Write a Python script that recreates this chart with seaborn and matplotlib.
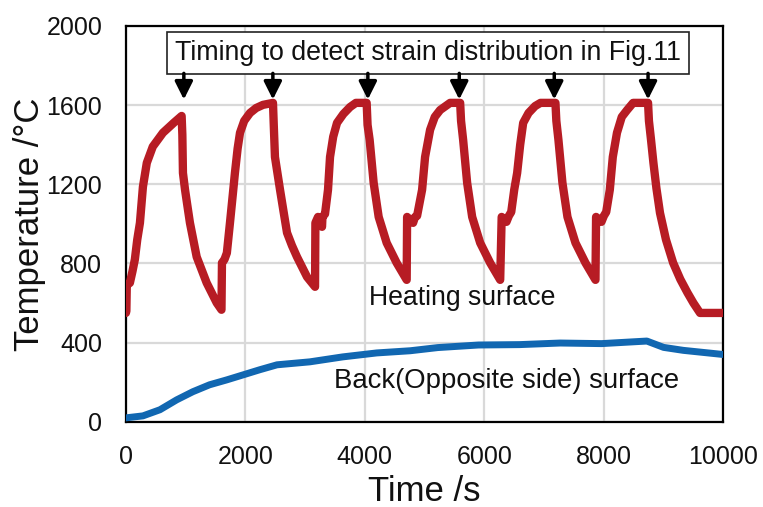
import matplotlib
matplotlib.use("Agg")
import matplotlib.pyplot as plt
import seaborn as sns
import pandas as pd

# Heating surface temperature (red)
heat_time = [0, 8, 15, 67, 110, 150, 190, 235, 285, 350, 450, 620, 800, 933,
             945, 955, 990, 1030, 1072, 1185, 1352, 1520, 1600,
             1608, 1650, 1690, 1742, 1790, 1825, 1870, 1910, 1980, 2077, 2180, 2295, 2462,
             2475, 2495, 2540, 2580, 2640, 2697, 2780, 2864, 3032, 3166,
             3172, 3216, 3283, 3290, 3333, 3383, 3417, 3470, 3534, 3640, 3752, 3850, 4030,
             4045, 4080, 4147, 4231, 4365, 4532, 4700,
             4707, 4807, 4840, 4874, 4958, 5008, 5092, 5170, 5260, 5427, 5595,
             5610, 5645, 5712, 5796, 5930, 6097, 6265,
             6290, 6370, 6410, 6450, 6500, 6549, 6600, 6650, 6740, 6850, 6940, 7190,
             7205, 7240, 7307, 7391, 7525, 7692, 7860,
             7870, 7960, 8000, 8040, 8100, 8150, 8220, 8300, 8390, 8490, 8740,
             8755, 8790, 8830, 8880, 8940, 9040, 9160, 9280, 9400, 9500, 9610, 10000]
heat_temp = [550, 560, 690, 702, 760, 820, 920, 1005, 1187, 1308, 1390, 1460, 1510, 1545,
             1450, 1257, 1172, 1090, 1005, 833, 702, 601, 566,
             803, 820, 853, 1005, 1150, 1257, 1380, 1460, 1520, 1560, 1585, 1601, 1611,
             1500, 1338, 1250, 1172, 1060, 955, 890, 833, 732, 682,
             1005, 1035, 985, 1035, 1050, 1172, 1338, 1440, 1510, 1555, 1590, 1611, 1611,
             1500, 1424, 1207, 1035, 904, 803, 717,
             1035, 1005, 1035, 1040, 1172, 1338, 1475, 1540, 1575, 1611, 1611,
             1520, 1424, 1207, 1035, 904, 803, 717,
             1035, 1010, 1040, 1060, 1172, 1257, 1400, 1510, 1560, 1595, 1611, 1611,
             1520, 1424, 1207, 1035, 904, 803, 717,
             1035, 1010, 1040, 1060, 1172, 1338, 1460, 1540, 1575, 1611, 1611,
             1520, 1424, 1308, 1180, 1055, 920, 803, 720, 652, 600, 550, 550]

# Back (opposite side) surface temperature (blue)
back_time = [0, 285, 570, 850, 1120, 1400, 1690, 1960, 2240, 2530, 3080, 3630,
             4200, 4760, 5220, 5900, 6590, 7270, 7960, 8720, 9000, 9330, 10000]
back_temp = [20, 30, 61, 111, 152, 187, 212, 237, 263, 288, 303, 328,
             348, 359, 375, 388, 390, 398, 395, 408, 376, 361, 340]

# Detection timings (arrows)
arrow_times = [970, 2460, 4050, 5580, 7170, 8740]

x_ticks = [0, 2000, 4000, 6000, 8000, 10000]
y_ticks = [0, 400, 800, 1200, 1600, 2000]

sns.set_theme(style="white")
plt.rcParams['font.family'] = ['Liberation Sans', 'DejaVu Sans']

fig = plt.figure(figsize=(7.63, 5.07), dpi=100)
ax = fig.add_axes([0.165, 0.168, 0.783, 0.781])

heat_df = pd.DataFrame({"t": heat_time, "T": heat_temp})
back_df = pd.DataFrame({"t": back_time, "T": back_temp})

sns.lineplot(data=back_df, x="t", y="T", ax=ax, color="#1167B1", lw=5,
             sort=False, estimator=None, zorder=3)
sns.lineplot(data=heat_df, x="t", y="T", ax=ax, color="#B71C24", lw=6,
             sort=False, estimator=None, zorder=4,
             solid_joinstyle="round", solid_capstyle="round")

ax.set_xlim(0, 10000)
ax.set_ylim(0, 2000)
ax.set_xticks(x_ticks)
ax.set_yticks(y_ticks)
ax.tick_params(axis="both", length=0, labelsize=18, colors="#111111")
ax.tick_params(axis="x", pad=17)
ax.tick_params(axis="y", pad=17)
ax.grid(True, color="#D9D9D9", lw=1.6)
ax.set_axisbelow(True)
for s in ax.spines.values():
    s.set_color("black")
    s.set_linewidth(1.6)

ax.set_xlabel("Time /s", fontsize=25, color="#111111", labelpad=4)
ax.set_ylabel("Temperature /°C", fontsize=25, color="#111111", labelpad=0)

ax.text(5060, 1864, "Timing to detect strain distribution in Fig.11",
        ha="center", va="center", fontsize=19.3, color="#111111", zorder=6,
        bbox=dict(boxstyle="square,pad=0.3", fc="white", ec="#222222", lw=1.2))

for t in arrow_times:
    ax.annotate("", xy=(t, 1628), xytext=(t, 1760),
                arrowprops=dict(arrowstyle="-|>,head_length=0.9,head_width=0.45",
                                color="black", lw=2.5, shrinkA=0, shrinkB=0),
                zorder=6)

ax.text(5630, 626, "Heating surface", ha="center", va="center",
        fontsize=19.2, color="#111111", zorder=5)
ax.text(6370, 207, "Back(Opposite side) surface", ha="center", va="center",
        fontsize=19.8, color="#111111", zorder=5)

fig.savefig("out.png", dpi=100)
